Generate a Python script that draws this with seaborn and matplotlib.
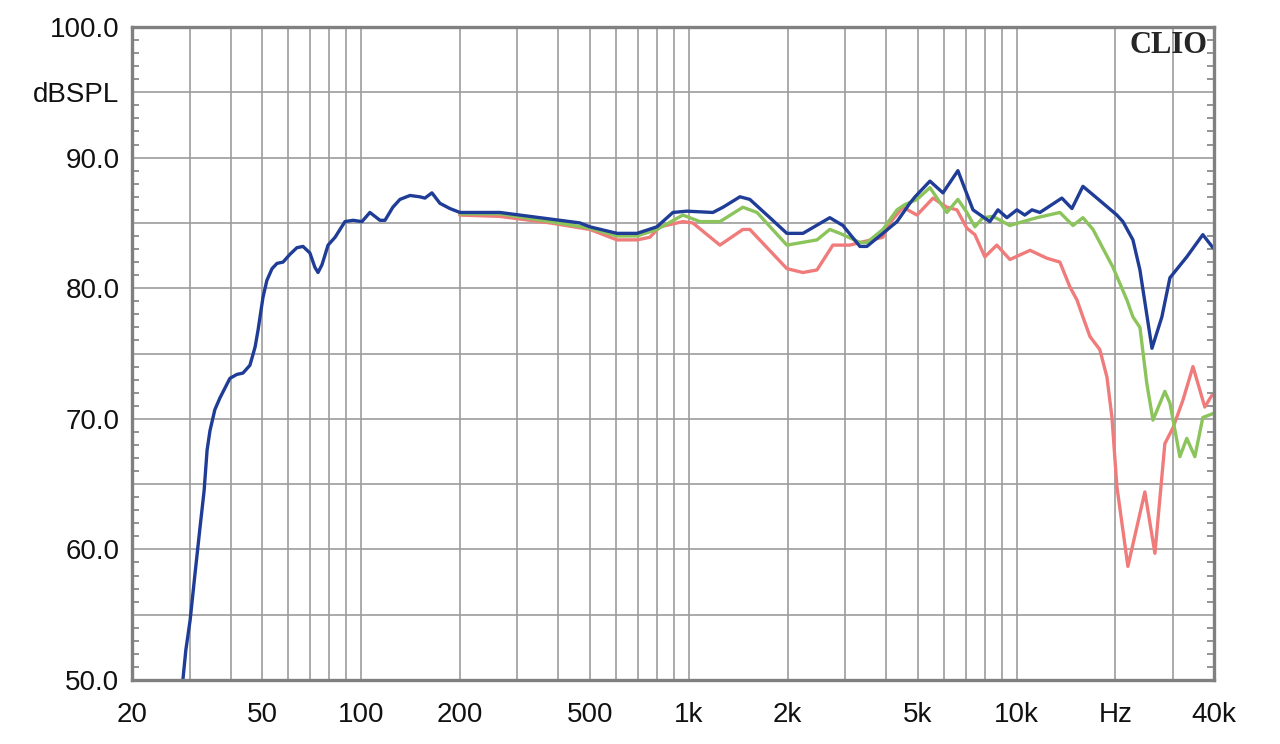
#!/usr/bin/env python3
# -*- coding: utf-8 -*-
"""
CLIO frequency response plot (three curves, dBSPL vs Hz)
"""

#%% Import modules

import pandas as pd
import seaborn as sns
import matplotlib
matplotlib.use('Agg')
import matplotlib.pyplot as plt


#%% Data read off the measurement

blue_freq = [28.6, 29.2, 30.1, 31.1, 32.2, 33.2, 33.9, 34.6, 35.8, 37.1, 39.8, 41.8, 43.6, 45.8,
             47.5, 48.5, 50.2, 51.6, 53.5, 55.4, 57.8, 60.7, 63.7, 66.5, 69.8, 72.3, 73.9, 76.0,
             79.3, 83.3, 89.3, 94.5, 100.6, 106.4, 114.2, 118.3, 125, 131.4, 141, 151, 156.6,
             164.5, 174, 186.7, 200.3, 210, 265, 377, 465, 499, 604, 695, 799, 894, 986, 1184,
             1271, 1432, 1535, 1767, 1991, 2229, 2692, 2952, 3326, 3493, 3908, 4316, 4722, 4900,
             5440, 5960, 6620, 7360, 8285, 8770, 9340, 10020, 10590, 11140, 11780, 13740, 14750,
             15930, 17580, 20230, 21100, 22640, 23780, 25880, 27740, 29360, 33050, 36990, 39720]
blue_db = [50.0, 52.3, 54.6, 58.0, 61.5, 64.5, 67.6, 69.1, 70.7, 71.6, 73.1, 73.4, 73.5, 74.1,
           75.5, 76.8, 79.3, 80.6, 81.5, 81.9, 82.0, 82.6, 83.1, 83.2, 82.7, 81.6, 81.2, 81.8,
           83.3, 83.9, 85.1, 85.2, 85.1, 85.8, 85.2, 85.2, 86.2, 86.8, 87.1, 87.0, 86.9,
           87.3, 86.5, 86.1, 85.8, 85.8, 85.8, 85.3, 85.0, 84.7, 84.2, 84.2, 84.7, 85.8, 85.9, 85.8,
           86.2, 87.0, 86.8, 85.4, 84.2, 84.2, 85.4, 84.8, 83.2, 83.2, 84.2, 85.1, 86.5, 87.0,
           88.2, 87.3, 89.0, 86.0, 85.1, 86.0, 85.4, 86.0, 85.6, 86.0, 85.8, 86.9, 86.1,
           87.8, 86.9, 85.6, 85.1, 83.7, 81.4, 75.4, 77.8, 80.8, 82.4, 84.1, 83.1]

green_freq = [200, 265, 377, 499, 604, 695, 799, 959, 1081, 1244, 1462, 1614, 1991, 2460, 2692,
              2890, 3326, 3493, 3908, 4316, 4560, 4966, 5440, 6125, 6620, 7050, 7460, 7890, 8470,
              9540, 10450, 11530, 13550, 14860, 15930, 17100, 19680, 21700, 22640, 23780, 24960,
              26060, 28330, 29360, 31480, 33050, 34980, 36990, 39720]
green_db = [85.7, 85.7, 85.1, 84.6, 84.0, 84.0, 84.5, 85.6, 85.1, 85.1, 86.2, 85.8, 83.3, 83.7, 84.5,
            84.2, 83.5, 83.5, 84.5, 86.0, 86.4, 86.8, 87.7, 85.8, 86.8, 85.8, 84.7, 85.4, 85.5,
            84.8, 85.1, 85.4, 85.8, 84.8, 85.4, 84.5, 81.6, 79.1, 77.8, 77.0, 72.7,
            69.9, 72.1, 71.2, 67.1, 68.5, 67.1, 70.1, 70.4]

red_freq = [200, 265, 377, 499, 604, 695, 760, 816, 959, 1028, 1244, 1462, 1535, 1991, 2229, 2460,
            2751, 3100, 3326, 3908, 4104, 4500, 4966, 5560, 6125, 6575, 7050, 7460, 8000, 8700,
            9540, 10990, 12360, 13550, 14540, 15280, 15930, 16740, 17940, 18860, 19540, 20230,
            21850, 24620, 26420, 28330, 29980, 32140, 34520, 37510, 39420]
red_db = [85.6, 85.5, 85.0, 84.5, 83.7, 83.7, 83.9, 84.7, 85.1, 85.0, 83.3, 84.5, 84.5, 81.5, 81.2, 81.4,
          83.3, 83.3, 83.5, 83.9, 85.0, 86.2, 85.6, 86.9, 86.2, 86.0, 84.6, 84.1, 82.4, 83.3,
          82.2, 82.9, 82.3, 82.0, 80.1, 79.1, 77.8, 76.3, 75.3, 73.2, 70.1, 64.8,
          58.7, 64.4, 59.7, 68.1, 69.3, 71.4, 74.0, 70.9, 71.8]

grid_freqs = [20, 30, 40, 50, 60, 70, 80, 90, 100, 200, 300, 400, 500, 600, 700, 800, 900,
              1000, 2000, 3000, 4000, 5000, 6000, 7000, 8000, 9000, 10000, 20000, 30000, 40000]
freq_labels = {20: '20', 50: '50', 100: '100', 200: '200', 500: '500', 1000: '1k', 2000: '2k',
               5000: '5k', 10000: '10k', 20000: 'Hz', 40000: '40k'}
db_ticks = [50, 55, 60, 65, 70, 75, 80, 85, 90, 95, 100]
db_labels = ['50.0', '', '60.0', '', '70.0', '', '80.0', '', '90.0', 'dBSPL', '100.0']


#%% Arrange df

df = pd.concat([
    pd.DataFrame({'freq': red_freq, 'db': red_db, 'curve': 'red'}),
    pd.DataFrame({'freq': green_freq, 'db': green_db, 'curve': 'green'}),
    pd.DataFrame({'freq': blue_freq, 'db': blue_db, 'curve': 'blue'}),
], ignore_index=True)
palette = {'red': '#f07b7b', 'green': '#8cc45c', 'blue': '#1f3d96'}


#%% Plot

sns.set_style('white')
plt.rcParams['font.family'] = ['Liberation Sans', 'DejaVu Sans']

fig = plt.figure(figsize=(12.8, 7.44), dpi=100)
ax = fig.add_axes([0.1031, 0.086, 0.8453, 0.8777])

grid_col = '#9c9c9c'
ax.set_xscale('log')
ax.set_xlim(20, 40000)
ax.set_ylim(50, 100)
for f in grid_freqs[1:-1]:
    ax.axvline(f, color=grid_col, lw=1.2, zorder=1)
for d in db_ticks[1:-1]:
    ax.axhline(d, color=grid_col, lw=1.2, zorder=1)

sns.lineplot(data=df, x='freq', y='db', hue='curve', palette=palette, estimator=None,
             linewidth=2.4, legend=False, ax=ax, zorder=3)

ax.set_xticks(grid_freqs)
ax.set_xticklabels([freq_labels.get(f, '') for f in grid_freqs])
ax.xaxis.set_minor_locator(matplotlib.ticker.NullLocator())
ax.set_yticks(db_ticks)
ax.set_yticklabels(db_labels)
ax.set_yticks(range(50, 101), minor=True)
ax.tick_params(axis='x', which='major', length=0, pad=16, labelsize=20, labelcolor='#111111')
ax.tick_params(axis='y', which='major', length=0, pad=9, labelsize=20, labelcolor='#111111')
ax.tick_params(axis='y', which='minor', direction='in', left=True, right=True, length=5,
               width=1.2, color='#808080')
ax.set_xlabel('')
ax.set_ylabel('')

for s in ax.spines.values():
    s.set_color('#808080')
    s.set_linewidth(2.4)
    s.set_zorder(4)

ax.text(0.994, 0.994, 'CLIO', transform=ax.transAxes, ha='right', va='top',
        fontsize=22, fontweight='bold', family=['Liberation Serif', 'DejaVu Serif'], zorder=5)

fig.savefig('out.png', dpi=100)
